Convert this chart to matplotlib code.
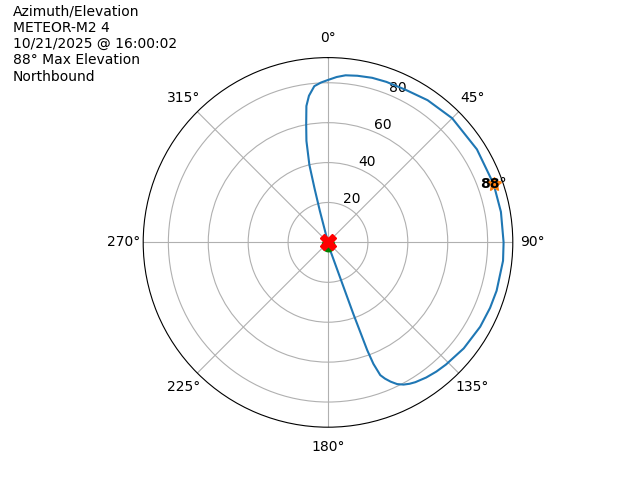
import numpy as np
import matplotlib.pyplot as plt

# pass track (azimuth deg, elevation deg)
azimuth = [175, 163, 161, 160.5, 160, 159.5, 158.5, 157.3, 155.8, 154, 152, 150,
           148, 144, 140, 136, 128, 119, 112, 106, 96, 90, 80, 70.6, 58, 45, 35,
           27, 20, 15, 10, 6, 3, 0, 357.5, 355, 352.6, 351, 349.5, 348, 346.5,
           346, 345.5, 345]
elevation = [1.5, 6, 18.5, 38, 57.5, 65, 71.5, 74, 76.5, 79, 80.7, 81.8,
             82.6, 83.7, 84.5, 85.1, 86.3, 87.2, 87.6, 87.9, 88.2, 88, 88, 88,
             88, 88, 87, 85.8, 85.6, 85.4, 84.8, 84.2, 83, 81.4, 80.2, 78.6,
             74.1, 69.2, 60, 52, 40, 28, 16.3, 0]

satellite = "METEOR-M2 4"
pass_time = "10/21/2025 @ 16:00:02"
direction = "Northbound"
max_el = 88
max_az = 70.6


def plot_pass(az, el, file_name="out.png"):
    theta = np.unwrap(np.radians(az))
    fig = plt.figure(figsize=(6.4, 4.8))
    ax = fig.add_subplot(111, projection="polar")
    ax.set_theta_zero_location("N")
    ax.set_theta_direction(-1)

    ax.plot(theta, el)
    ax.plot(np.radians(max_az), max_el, "*", markersize=10)
    ax.text(np.radians(max_az), max_el, f"{max_el}°", fontweight="bold",
            ha="center", va="center")
    ax.plot(theta[0], el[0], "go", markersize=9)
    ax.plot(theta[-1], el[-1], "rX", markersize=12)

    fig.text(0.02, 0.99,
             f"Azimuth/Elevation\n{satellite}\n{pass_time}\n{max_el}° Max Elevation\n{direction}",
             va="top", ha="left")
    fig.savefig(file_name)


if __name__ == "__main__":
    plot_pass(azimuth, elevation)
